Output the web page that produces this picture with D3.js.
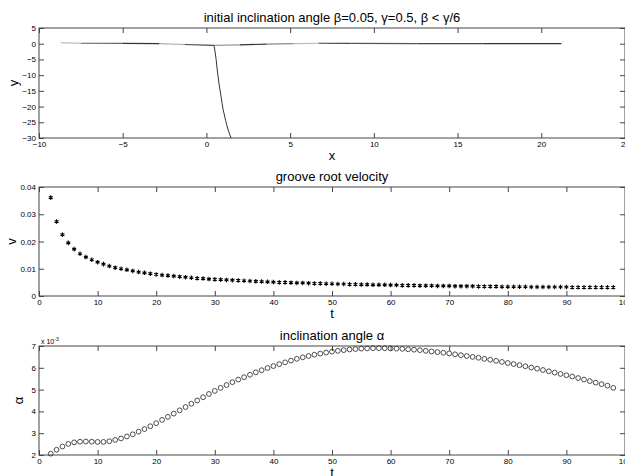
<!DOCTYPE html>
<html>
<head>
<meta charset="utf-8">
<script src="https://cdn.jsdelivr.net/npm/d3@7"></script>
<style>
body { margin: 0; background: #fff; }
text { font-family: "Liberation Sans", Arial, Helvetica, sans-serif; }
</style>
</head>
<body>
<div id="chart"></div>
<script>
// ---- data ----
// groove surface (top panel)
var surfaceX = [-8.7, -7.5, -5.0, -2.8, -1.3, 0.45, 2.0, 3.6, 5.2, 6.7, 8.6, 12.6, 16.5, 21.2];
var surfaceY = [0.3, 0.15, 0.1, 0.0, -0.25, -0.55, -0.4, -0.1, 0.0, 0.15, 0.1, 0.0, 0.0, 0.0];
var grooveX = [0.45, 0.5, 0.58, 0.66, 0.76, 0.88, 1.0, 1.15, 1.3, 1.47];
var grooveY = [-0.55, -2, -5, -9, -13, -17, -21, -24.5, -27.5, -30];

// time steps (middle & bottom panels)
var timeSteps = [2, 3, 4, 5, 6, 7, 8, 9, 10, 11, 12, 13, 14, 15, 16, 17, 18, 19, 20,
  21, 22, 23, 24, 25, 26, 27, 28, 29, 30, 31, 32, 33, 34, 35, 36, 37, 38, 39, 40,
  41, 42, 43, 44, 45, 46, 47, 48, 49, 50, 51, 52, 53, 54, 55, 56, 57, 58, 59, 60,
  61, 62, 63, 64, 65, 66, 67, 68, 69, 70, 71, 72, 73, 74, 75, 76, 77, 78, 79, 80,
  81, 82, 83, 84, 85, 86, 87, 88, 89, 90, 91, 92, 93, 94, 95, 96, 97, 98];

// groove root velocity v
var velocity = [0.0361, 0.0273, 0.0225, 0.0195, 0.0172, 0.0155, 0.0143, 0.0133, 0.0124,
  0.0117, 0.0110, 0.0104, 0.0100, 0.0096, 0.0092, 0.0088, 0.0085, 0.0082, 0.0079,
  0.0077, 0.0075, 0.0073, 0.0071, 0.0069, 0.0067, 0.0065, 0.0064, 0.0062, 0.0061,
  0.0060, 0.0059, 0.0058, 0.0057, 0.0056, 0.0055, 0.0054, 0.0053, 0.0052, 0.0051,
  0.0050, 0.0050, 0.0049, 0.0048, 0.0048, 0.0047, 0.0046, 0.0046, 0.0045, 0.0045,
  0.0044, 0.0044, 0.0043, 0.0043, 0.0042, 0.0042, 0.0041, 0.0041, 0.0041, 0.0040,
  0.0040, 0.0039, 0.0039, 0.0039, 0.0038, 0.0038, 0.0038, 0.0037, 0.0037, 0.0037,
  0.0036, 0.0036, 0.0036, 0.0036, 0.0035, 0.0035, 0.0035, 0.0035, 0.0034, 0.0034,
  0.0034, 0.0034, 0.0034, 0.0033, 0.0033, 0.0033, 0.0033, 0.0033, 0.0033, 0.0033,
  0.0032, 0.0032, 0.0032, 0.0032, 0.0032, 0.0032, 0.0032, 0.0032];

// inclination angle alpha (x 10^-3)
var alpha = [2.06, 2.24, 2.39, 2.51, 2.58, 2.61, 2.62, 2.61, 2.60, 2.60, 2.63, 2.69,
  2.76, 2.85, 2.95, 3.07, 3.19, 3.32, 3.46, 3.61, 3.75, 3.90, 4.05, 4.20, 4.35, 4.50,
  4.65, 4.80, 4.94, 5.08, 5.21, 5.34, 5.46, 5.57, 5.68, 5.79, 5.89, 5.99, 6.08, 6.17,
  6.25, 6.33, 6.41, 6.48, 6.54, 6.60, 6.65, 6.70, 6.74, 6.78, 6.81, 6.84, 6.86, 6.88,
  6.89, 6.90, 6.90, 6.90, 6.89, 6.88, 6.87, 6.85, 6.83, 6.81, 6.78, 6.75, 6.72, 6.69,
  6.66, 6.62, 6.58, 6.54, 6.50, 6.46, 6.41, 6.37, 6.32, 6.27, 6.22, 6.17, 6.12, 6.07,
  6.01, 5.96, 5.90, 5.84, 5.78, 5.72, 5.66, 5.60, 5.53, 5.46, 5.39, 5.32, 5.25, 5.18, 5.08];

var xTicksTop = [-10, -5, 0, 5, 10, 15, 20, 25];
var yTicksTop = [5, 0, -5, -10, -15, -20, -25, -30];
var tTicks = [0, 10, 20, 30, 40, 50, 60, 70, 80, 90, 100];
var vTicks = [0, 0.01, 0.02, 0.03, 0.04];
var alphaTicks = [2, 3, 4, 5, 6, 7];

// ---- layout ----
var svgWidth = 625, svgHeight = 476;
var left = 39, right = 625;

var svg = d3.select("#chart").append("svg")
  .attr("width", svgWidth)
  .attr("height", svgHeight);

// draws the box, inward ticks on all four sides, title and labels
function drawFrame(x, y, top, bottom, xt, yt, title, xlab, ylab, yfmt, ylabX) {
  var g = svg.append("g");
  g.append("rect")
    .attr("x", left).attr("y", top)
    .attr("width", right - left).attr("height", bottom - top)
    .attr("fill", "none").attr("stroke", "#444").attr("stroke-width", 1);

  var ax = [
    [d3.axisBottom(x).tickValues(xt).tickFormat(d3.format("d")), "translate(0," + bottom + ")"],
    [d3.axisTop(x).tickValues(xt).tickFormat(""), "translate(0," + top + ")"],
    [d3.axisLeft(y).tickValues(yt).tickFormat(yfmt), "translate(" + left + ",0)"],
    [d3.axisRight(y).tickValues(yt).tickFormat(""), "translate(" + right + ",0)"]
  ];
  ax.forEach(function(a) {
    var ag = g.append("g")
      .attr("transform", a[1])
      .call(a[0].tickSizeInner(-5).tickSizeOuter(0).tickPadding(3));
    ag.select(".domain").remove();
    ag.selectAll("line").attr("stroke", "#444");
    ag.selectAll("text").attr("font-size", 8).attr("fill", "#000")
      .attr("font-family", "Liberation Sans, Arial, sans-serif");
  });

  g.append("text")
    .attr("x", (left + right) / 2).attr("y", top - 6)
    .attr("text-anchor", "middle").attr("font-size", 13)
    .text(title);
  g.append("text")
    .attr("x", (left + right) / 2).attr("y", bottom + 22)
    .attr("text-anchor", "middle").attr("font-size", 13)
    .text(xlab);
  g.append("text")
    .attr("transform", "translate(" + ylabX + "," + (top + bottom) / 2 + ") rotate(-90)")
    .attr("text-anchor", "middle").attr("font-size", 13)
    .text(ylab);
  return g;
}

// ---- panel 1: groove shape ----
var x1 = d3.scaleLinear().domain([-10, 25]).range([left, right]);
var y1 = d3.scaleLinear().domain([-30, 5]).range([138, 28]);
var g1 = drawFrame(x1, y1, 28, 138, xTicksTop, yTicksTop,
  "initial inclination angle \u03b2=0.05, \u03b3=0.5, \u03b2 < \u03b3/6", "x", "y", d3.format("d"), 18);

var segColors = ["#b0b0b0", "#666", "#333", "#aaa", "#444", "#999", "#333", "#888", "#bbb", "#444", "#555", "#444", "#333"];
for (var i = 0; i < surfaceX.length - 1; i++) {
  g1.append("line")
    .attr("x1", x1(surfaceX[i])).attr("y1", y1(surfaceY[i]))
    .attr("x2", x1(surfaceX[i + 1])).attr("y2", y1(surfaceY[i + 1]))
    .attr("stroke", segColors[i]).attr("stroke-width", 1.2);
}
var groove = grooveX.map(function(d, i) { return [d, grooveY[i]]; });
g1.append("path")
  .attr("d", d3.line().curve(d3.curveMonotoneY)
    .x(function(d) { return x1(d[0]); })
    .y(function(d) { return y1(d[1]); })(groove))
  .attr("fill", "none").attr("stroke", "#333").attr("stroke-width", 1);

// ---- panel 2: groove root velocity ----
var x2 = d3.scaleLinear().domain([0, 100]).range([left, right]);
var y2 = d3.scaleLinear().domain([0, 0.04]).range([296, 187]);
var g2 = drawFrame(x2, y2, 187, 296, tTicks, vTicks,
  "groove root velocity", "t", "v", function(d) { return d === 0 ? "0" : d3.format(".2f")(d); }, 16);

var star = d3.symbol().type(d3.symbolAsterisk).size(14);
g2.selectAll(".star")
  .data(timeSteps)
  .enter()
  .append("path")
  .attr("class", "star")
  .attr("d", star)
  .attr("transform", function(d, i) { return "translate(" + x2(d) + "," + y2(velocity[i]) + ")"; })
  .attr("fill", "none").attr("stroke", "#000").attr("stroke-width", 1.1);

// ---- panel 3: inclination angle ----
var x3 = d3.scaleLinear().domain([0, 100]).range([left, right]);
var y3 = d3.scaleLinear().domain([2, 7]).range([455, 346]);
var g3 = drawFrame(x3, y3, 346, 455, tTicks, alphaTicks,
  "inclination angle \u03b1", "t", "\u03b1", d3.format("d"), 23);

g3.selectAll(".ring")
  .data(timeSteps)
  .enter()
  .append("circle")
  .attr("class", "ring")
  .attr("cx", function(d) { return x3(d); })
  .attr("cy", function(d, i) { return y3(alpha[i]); })
  .attr("r", 2.4)
  .attr("fill", "none").attr("stroke", "#222").attr("stroke-width", 0.8);

var expo = g3.append("text")
  .attr("x", left + 2).attr("y", 344)
  .attr("font-size", 7);
expo.append("tspan").text("x 10");
expo.append("tspan").attr("dy", -3).attr("font-size", 5).text("-3");
</script>
</body>
</html>
